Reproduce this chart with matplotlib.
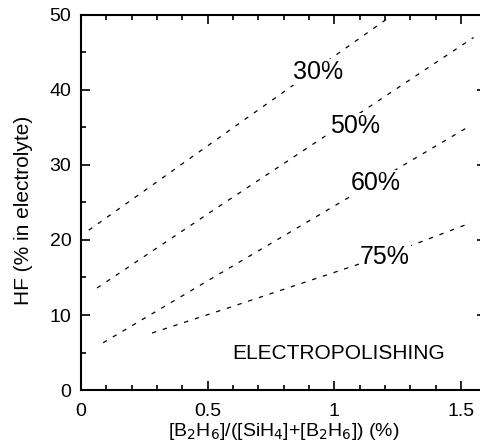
import numpy as np
import matplotlib.pyplot as plt
from matplotlib.ticker import MultipleLocator

plt.rcParams['font.family'] = ['Liberation Sans', 'DejaVu Sans']

# curves (x = B2H6 fraction %, y = HF %)
x30 = [0.03, 0.656, 1.23]
hf30 = [21.3, 36.3, 50.0]
x50 = [0.063, 0.55, 0.984, 1.55]
hf50 = [13.6, 24.6, 34.3, 47.0]
x60 = [0.087, 0.577, 1.54]
hf60 = [6.3, 16.1, 35.3]
x75 = [0.28, 0.577, 1.09, 1.33, 1.54]
hf75 = [7.6, 10.9, 16.7, 19.6, 22.3]

labels = ['30%', '50%', '60%', '75%']
label_x = [0.937, 1.083, 1.162, 1.20]
label_y = [42.4, 35.2, 27.6, 17.7]

fig = plt.figure(figsize=(4.8, 4.47), dpi=100)
ax = fig.add_axes([0.169, 0.1275, 0.844, 0.839])

dash = (0, (3.5, 5.5))
for xs, ys in [(x30, hf30), (x50, hf50), (x60, hf60), (x75, hf75)]:
    ax.plot(xs, ys, color='black', lw=0.9, linestyle=dash)

for t, lx, ly in zip(labels, label_x, label_y):
    ax.text(lx, ly, t, fontsize=18, ha='center', va='center',
            bbox=dict(facecolor='white', edgecolor='none', pad=0.5))

ax.text(1.016, 4.9, 'ELECTROPOLISHING', fontsize=15, ha='center', va='center')

ax.set_xlim(0, 1.6)
ax.set_ylim(0, 50)
ax.xaxis.set_major_locator(MultipleLocator(0.5))
ax.xaxis.set_minor_locator(MultipleLocator(0.1))
ax.yaxis.set_major_locator(MultipleLocator(10))
ax.yaxis.set_minor_locator(MultipleLocator(5))
ax.set_xticks([0, 0.5, 1, 1.5])
ax.set_xticklabels(['0', '0.5', '1', '1.5'])

ax.tick_params(which='both', direction='in', top=True, right=True,
               labelsize=14, width=1.2)
ax.tick_params(axis='x', which='major', length=6.5, pad=9)
ax.tick_params(axis='y', which='major', length=6.5, pad=7)
ax.tick_params(which='minor', length=3.5)
for s in ax.spines.values():
    s.set_linewidth(1.5)

ax.set_xlabel(r'[B$_2$H$_6$]/([SiH$_4$]+[B$_2$H$_6$]) (%)', fontsize=14, labelpad=1)
ax.set_ylabel('HF (% in electrolyte)', fontsize=15)
ax.yaxis.set_label_coords(-0.12, 0.48)

fig.savefig('out.png', dpi=100)
